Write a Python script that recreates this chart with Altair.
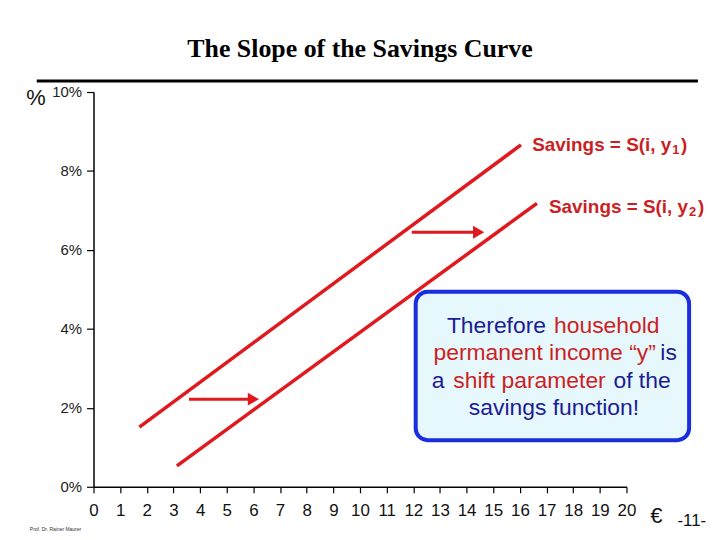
import altair as alt
import pandas as pd

# ---- data ----
x_ticks = list(range(0, 21))
y_ticks = [0, 2, 4, 6, 8, 10]

series = ["y1", "y1", "y2", "y2"]
line_x = [1.72, 16.04, 3.13, 16.64]
line_y = [1.51, 8.66, 0.53, 7.18]

arrow_id = ["a1", "a1", "a2", "a2"]
arrow_x = [3.58, 6.0, 11.94, 14.45]
arrow_y = [2.22, 2.22, 6.45, 6.45]
head_x = [6.0, 14.45]
head_y = [2.22, 6.45]

# curve labels: main part, subscript, closing parenthesis
lab_main = ["Savings = S(i, y", "Savings = S(i, y"]
lab_main_x = [21.68, 22.31]
lab_sub = ["1", "2"]
lab_sub_x = [21.72, 22.35]
lab_close = [")", ")"]
lab_close_x = [22.05, 22.68]
lab_y = [8.66, 7.08]

box_text = ["Therefore", "household", "permanent income “y”", "is", "a",
            "shift parameter", "of the", "savings function!"]
box_tx = [16.98, 17.28, 21.1, 21.27, 13.17, 16.36, 19.51, 17.28]
box_ty = [4.08, 4.08, 3.38, 3.38, 2.67, 2.67, 2.67, 1.99]
box_align = ["right", "left", "right", "left", "right", "center", "left", "center"]
box_col = ["blue", "red", "red", "blue", "blue", "red", "blue", "blue"]

BLUE_TXT = "#1c1c96"
RED_TXT = "#cc1f24"
RED = "#e0191e"
FONT = "Liberation Sans"

xs = alt.Scale(domain=[0, 20], nice=False, zero=False)
ys = alt.Scale(domain=[0, 10], nice=False, zero=False)

x_axis = alt.Axis(
    values=x_ticks, title=None, grid=False, domainColor="black", domainWidth=1.5,
    tickColor="black", tickSize=6, tickWidth=1.2, labelFont=FONT, labelFontSize=17,
    labelColor="#111", labelPadding=10, format="d", labelOverlap=False, labelFlush=False)
y_axis = alt.Axis(
    values=y_ticks, title=None, grid=False, domainColor="black", domainWidth=1.5,
    tickColor="black", tickSize=7, tickWidth=1.2, labelFont=FONT, labelFontSize=15,
    labelColor="#222", labelPadding=5, labelExpr="datum.value + '%'", labelOverlap=False,
    labelFlush=False)

X = lambda f="x": alt.X(f + ":Q", scale=xs, axis=x_axis)
Y = lambda f="y": alt.Y(f + ":Q", scale=ys, axis=y_axis)

lines = alt.Chart(pd.DataFrame({"s": series, "x": line_x, "y": line_y})).mark_line(
    color=RED, strokeWidth=3.5).encode(x=X(), y=Y(), detail="s:N")

arrows = alt.Chart(pd.DataFrame({"a": arrow_id, "x": arrow_x, "y": arrow_y})).mark_line(
    color=RED, strokeWidth=3).encode(x=X(), y=Y(), detail="a:N")
heads = alt.Chart(pd.DataFrame({"x": head_x, "y": head_y})).mark_point(
    shape="triangle-right", filled=True, color=RED, size=170, opacity=1).encode(x=X(), y=Y())

lab_df = pd.DataFrame({"m": lab_main, "mx": lab_main_x, "s": lab_sub, "sx": lab_sub_x,
                       "c": lab_close, "cx": lab_close_x, "y": lab_y})
lab_m = alt.Chart(lab_df).mark_text(align="right", baseline="middle", font=FONT, fontSize=19,
                                    fontWeight="bold", color=RED_TXT).encode(x=X("mx"), y=Y(), text="m:N")
lab_s = alt.Chart(lab_df).mark_text(align="left", baseline="middle", font=FONT, fontSize=13,
                                    fontWeight="bold", color=RED_TXT, dy=5).encode(x=X("sx"), y=Y(), text="s:N")
lab_c = alt.Chart(lab_df).mark_text(align="left", baseline="middle", font=FONT, fontSize=19,
                                    fontWeight="bold", color=RED_TXT).encode(x=X("cx"), y=Y(), text="c:N")

box = alt.Chart(pd.DataFrame({"x": [12.09], "x2": [22.35], "y": [4.94], "y2": [1.18]})).mark_rect(
    fill="#e6f8fc", stroke="#1a2ee0", strokeWidth=4, cornerRadius=12
).encode(x=X(), x2="x2:Q", y=Y(), y2="y2:Q")

bt_df = pd.DataFrame({"t": box_text, "x": box_tx, "y": box_ty, "al": box_align, "c": box_col})
box_texts = []
for al in ["left", "right", "center"]:
    sub = bt_df[bt_df.al == al]
    box_texts.append(alt.Chart(sub).mark_text(
        align=al, baseline="middle", font=FONT, fontSize=23).encode(
        x=X(), y=Y(), text="t:N",
        color=alt.Color("c:N", scale=alt.Scale(domain=["blue", "red"], range=[BLUE_TXT, RED_TXT]),
                        legend=None)))

top_rule = alt.Chart(pd.DataFrame({"x": [-2.13], "x2": [22.68], "y": [10.28]})).mark_rule(
    color="black", strokeWidth=3).encode(x=X(), x2="x2:Q", y=Y())

misc_text = ["%", "€", "-11-"]
misc_x = [-2.16, 21.12, 22.45]
misc_y = [9.85, -0.73, -0.88]
misc_size = [22, 22, 17]
misc = alt.Chart(pd.DataFrame({"t": misc_text, "x": misc_x, "y": misc_y, "s": misc_size})).mark_text(
    align="center", baseline="middle", font=FONT, color="#111").encode(
    x=X(), y=Y(), text="t:N", size=alt.Size("s:Q", scale=None, legend=None))

credit = alt.Chart(pd.DataFrame({"t": ["Prof. Dr. Rainer Maurer"], "x": [-2.39], "y": [-1.08]})).mark_text(
    align="left", baseline="middle", font=FONT, fontSize=5, color="#333").encode(x=X(), y=Y(), text="t:N")

chart = alt.layer(top_rule, lines, arrows, heads, lab_m, lab_s, lab_c, box, *box_texts,
                  misc, credit).properties(
    width=536, height=397,
    title=alt.TitleParams("The Slope of the Savings Curve", font="Liberation Serif", fontSize=26,
                          fontWeight="bold", color="black", anchor="middle", offset=18),
    autosize=alt.AutoSizeParams(type="none"),
    padding={"left": 86, "top": 83, "right": 86, "bottom": 46},
    background="white",
).configure_view(stroke=None)

chart.save("out.html", embed_options={"renderer": "svg", "actions": False})
